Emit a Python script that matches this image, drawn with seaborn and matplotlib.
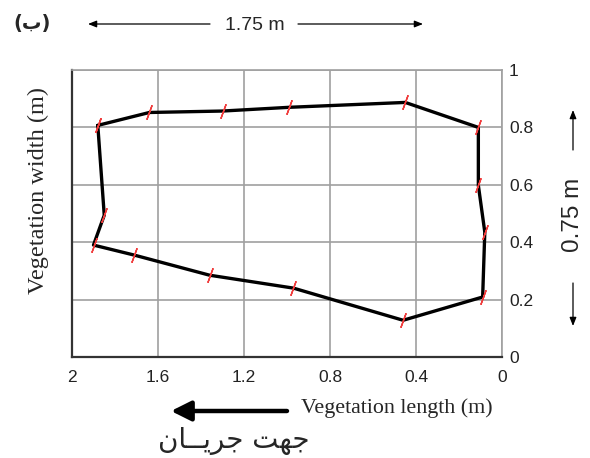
import matplotlib
matplotlib.use('Agg')
import matplotlib.pyplot as plt
import numpy as np
import seaborn as sns

# outline of the vegetation patch (m), walked clockwise
veg_length = [1.88, 1.64, 1.30, 0.99, 0.45, 0.11, 0.11, 0.08, 0.09, 0.46, 0.97, 1.36, 1.71, 1.90, 1.85]
veg_width = [0.807, 0.852, 0.857, 0.870, 0.887, 0.800, 0.598, 0.435, 0.209, 0.128, 0.240, 0.285, 0.355, 0.390, 0.494]
x_ticks = [2, 1.6, 1.2, 0.8, 0.4, 0]
y_ticks = [0, 0.2, 0.4, 0.6, 0.8, 1]
x_tick_labels = ['2', '1.6', '1.2', '0.8', '0.4', '0']
y_tick_labels = ['0', '0.2', '0.4', '0.6', '0.8', '1']

# Persian text written in visual order with presentation forms (matplotlib does no shaping)
panel_label = '(\uFE8F)'
flow_label = '\uFEE5\uFE8E\u0640\u0640\uFBFE\uFEAE\uFE9F \uFE96\uFEEC\uFE9F'

W, H = 590, 458


def fx(px):
    return px / W


def fy(py):
    return 1 - py / H


sns.set_style('white')
plt.rcParams['font.family'] = ['Liberation Sans', 'DejaVu Sans']

fig = plt.figure(figsize=(W / 100, H / 100), dpi=100)
ax = fig.add_axes([fx(72), fy(357), fx(502) - fx(72), fy(70) - fy(357)])

xs = np.append(veg_length, veg_length[0])
ys = np.append(veg_width, veg_width[0])
sns.lineplot(x=xs, y=ys, sort=False, estimator=None, color='black', lw=2.4,
             marker=(2, 2, -20), markersize=11, mec='#f03c3c', mew=1.0, ax=ax)

ax.set_xlim(2, 0)
ax.set_ylim(0, 1)
ax.set_xticks(x_ticks)
ax.set_xticklabels(x_tick_labels)
ax.set_yticks(y_ticks)
ax.set_yticklabels(y_tick_labels)
ax.yaxis.tick_right()
ax.tick_params(axis='both', length=0, labelsize=12.5, colors='#222222')
ax.tick_params(axis='x', pad=9)
ax.tick_params(axis='y', pad=5)
ax.grid(True, color='#a0a0a0', lw=1.2)
for side in ['top', 'right']:
    ax.spines[side].set_color('#a0a0a0')
    ax.spines[side].set_linewidth(1.2)
for side in ['left', 'bottom']:
    ax.spines[side].set_color('#333333')
    ax.spines[side].set_linewidth(1.6)
ax.set_xlabel('')
ax.set_ylabel('')

serif = ['Liberation Serif', 'DejaVu Serif']
fig.text(fx(38), fy(191), 'Vegetation width (m)', rotation=90, ha='center', va='center',
         fontsize=17.5, family=serif)
fig.text(fx(397), fy(408), 'Vegetation length (m)', ha='center', va='center',
         fontsize=15.8, family=serif)
fig.text(fx(234), fy(441), flow_label, ha='center', va='center', fontsize=20,
         family=['DejaVu Sans'])
fig.text(fx(32), fy(24), panel_label, ha='center', va='center', fontsize=14,
         fontweight='bold', family=['DejaVu Sans'])
fig.text(fx(255), fy(25), '1.75 m', ha='center', va='center', fontsize=14)
fig.text(fx(573), fy(215), '0.75 m', rotation=90, ha='center', va='center', fontsize=17.5)


def arrow(x0, y0, x1, y1, lw, hw, hl):
    fig.add_artist(matplotlib.patches.FancyArrowPatch(
        (fx(x0), fy(y0)), (fx(x1), fy(y1)), transform=fig.transFigure,
        arrowstyle=f'-|>,head_width={hw},head_length={hl}', lw=lw, color='black',
        shrinkA=0, shrinkB=0, mutation_scale=10))


arrow(210, 24, 88, 24, 0.9, 0.2, 0.5)
arrow(298, 24, 423, 24, 0.9, 0.2, 0.5)
arrow(573, 150, 573, 110, 0.9, 0.2, 0.5)
arrow(573, 283, 573, 326, 0.9, 0.2, 0.5)
arrow(287, 411, 171, 411, 3.2, 0.6, 1.2)

fig.savefig('out.png', dpi=100)
